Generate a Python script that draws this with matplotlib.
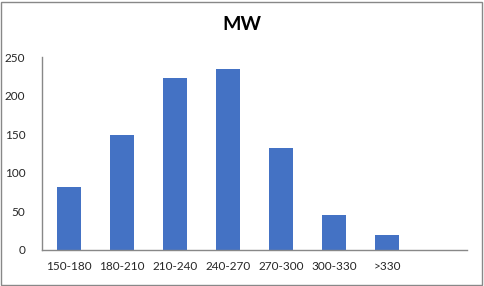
import matplotlib.pyplot as plt
from matplotlib.patches import Rectangle

# MW distribution (counts per range)
categories = ['150-180', '180-210', '210-240', '240-270', '270-300', '300-330', '>330', '']
counts = [81, 149, 223, 234, 132, 45, 19, 0]

plt.rcParams['font.family'] = ['Lato', 'DejaVu Sans']

W, H = 484, 286
fig = plt.figure(figsize=(W / 100, H / 100), dpi=100)
ax = fig.add_axes([42 / W, 1 - 250 / H, (467 - 42) / W, (250 - 57) / H])

x = list(range(len(categories)))
ax.bar(x[:-1], counts[:-1], width=0.45, color='#4472C4')
ax.set_xlim(-0.5, len(categories) - 0.5)
ax.set_ylim(0, 250)
ax.set_yticks(range(0, 251, 50))
ax.set_xticks(x)
ax.set_xticklabels(categories)
ax.tick_params(axis='y', length=0, pad=12, labelsize=8.5, labelcolor='#262626')
ax.tick_params(axis='x', length=0, pad=8, labelsize=8.5, labelcolor='#262626')

for s in ['top', 'right']:
    ax.spines[s].set_visible(False)
for s in ['left', 'bottom']:
    ax.spines[s].set_color('#888888')
    ax.spines[s].set_linewidth(1)

fig.text(0.5, 1 - 25 / H, 'MW', ha='center', va='center', fontsize=14, fontweight='bold')

# chart border
fig.patches.append(Rectangle((1 / W, 1 / H), (W - 3) / W, (H - 3) / H, transform=fig.transFigure,
                             fill=False, edgecolor='#888888', linewidth=1))

fig.savefig('out.png', dpi=100)
